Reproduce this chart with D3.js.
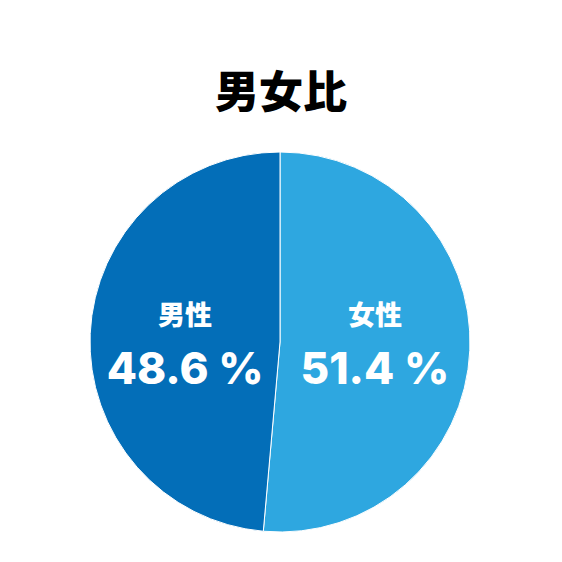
<!DOCTYPE html>
<html><head><meta charset="utf-8">
<script src="https://cdn.jsdelivr.net/npm/d3@7"></script>
<style>body{margin:0;background:#fff}</style>
</head><body><div id="chart"></div>
<script>
const labels = ["女性", "男性"];
const values = [51.4, 48.6];
const colors = ["#2EA7E0", "#036EB8"];

const width = 562, height = 562, cx = 280, cy = 342, r = 190;
const svg = d3.select("#chart").append("svg").attr("width", width).attr("height", height);

svg.append("text").attr("x", 281).attr("y", 108).attr("text-anchor", "middle")
  .style("font-family", "'Noto Sans CJK JP'").style("font-weight", 900).style("font-size", "44px")
  .text("男女比");

const pie = d3.pie().sort(null).value(d => d)(values);
const arc = d3.arc().innerRadius(0).outerRadius(r);
const g = svg.append("g").attr("transform", `translate(${cx},${cy})`);
g.selectAll("path").data(pie).enter().append("path")
  .attr("d", arc).attr("fill", (d, i) => colors[i])
  .attr("stroke", "#fff").attr("stroke-width", 1);

const labelArc = d3.arc().innerRadius(r * 0.5).outerRadius(r * 0.5);
pie.forEach((d, i) => {
  const [x] = labelArc.centroid(d);
  g.append("text").attr("x", x).attr("y", -17).attr("text-anchor", "middle")
    .style("font-family", "'Noto Sans CJK JP'").style("font-weight", 900).style("font-size", "27px")
    .attr("fill", "#fff").text(labels[i]);
  g.append("text").attr("x", x).attr("y", 42).attr("text-anchor", "middle")
    .style("font-family", "Inter").style("font-weight", 800).style("font-size", "44px")
    .attr("fill", "#fff").text(values[i].toFixed(1) + " %");
});
</script></body></html>
